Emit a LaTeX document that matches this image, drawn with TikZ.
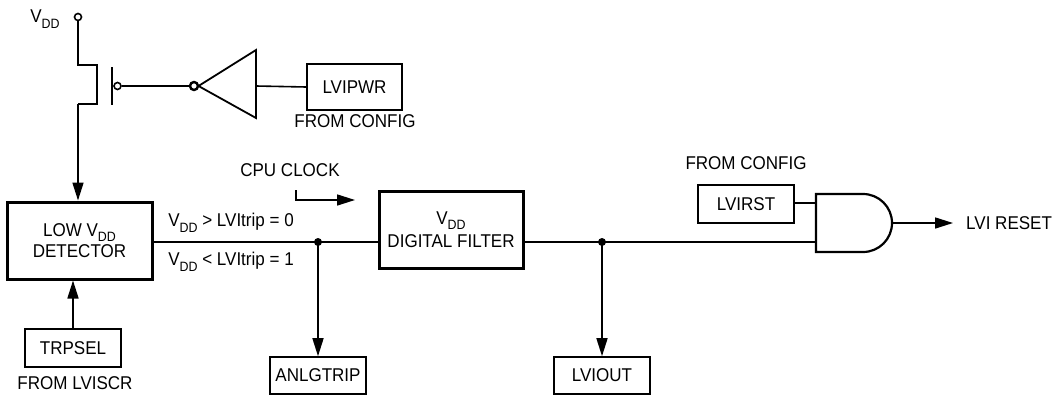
\documentclass[tikz,border=0pt]{standalone}
\usepackage{fontspec}
\setmainfont[FakeStretch=0.92]{Liberation Sans}
\usetikzlibrary{arrows.meta}
\newcommand\vdd{V\raisebox{-0.3em}{\fontsize{13.5}{13}\selectfont DD}}
\begin{document}
\begin{tikzpicture}[x=1pt,y=-1pt,
  every node/.style={font=\fontsize{18.5}{21}\selectfont, inner sep=0pt},
  thin line/.style={line width=1.6pt},
  thickbox/.style={draw, line width=3pt, align=center, minimum width=144pt, minimum height=77pt},
  regbox/.style={draw, line width=1.6pt, minimum width=96pt, minimum height=38pt},
  arr/.style={line width=1.6pt, -{Triangle[length=18pt,width=11pt]}},
  dot/.style={circle, fill, minimum size=8pt},
  lbl/.style={align=center}]
\useasboundingbox (0,0) rectangle (1056,396);

% supply and transistor
\node[circle, draw, thin line, fill=white, minimum size=7pt] (vddc) at (78,17) {};
\node (vddl) at (45,19) {\vdd};
\node[thickbox, minimum width=145pt] (det) at (79.5,240.5) {LOW \vdd\\[0pt]DETECTOR};
\draw[thin line] (vddc.south) -- (78,65) -- (97,65) -- (97,104) -- (78,104) coordinate (tsrc);
\draw[arr] (tsrc) -- (tsrc |- det.north);
\coordinate (gtop) at (112,67);
\coordinate (gbot) at (112,105);
\draw[thin line] (gtop) -- (gbot);
\node[circle, draw, thin line, minimum size=7pt] (gb) at (117.5,86) {};
\node[circle, draw, line width=2.4pt, minimum size=8pt] (ib) at (194,86) {};
\draw[thin line] (gb.east) -- (ib.west);
\coordinate (tapex) at (198.5,86);
\coordinate (tb1) at (256,50);
\coordinate (tb2) at (256,118);
\coordinate (tout) at (256,86);
\draw[line width=1.8pt, line join=miter] (tapex) -- (tb1) -- (tb2) -- cycle;
\node[regbox, minimum width=95pt, minimum height=46pt] (lvipwr) at (354.5,87) {LVIPWR};
\draw[thin line] (tout) -- (lvipwr.west);
\node (fc1) at (355,121) {FROM CONFIG};

% detector input
\node[regbox] (trpsel) at (73,348) {TRPSEL};
\node (flv) at (75,383) {FROM LVISCR};
\draw[arr] (trpsel.north) -- (trpsel.north |- det.south);

% filter
\node[thickbox] (filt) at (451,229.5) {\vdd\\[2pt]DIGITAL FILTER};
\coordinate (j1) at (318,242);
\coordinate (j2) at (602,242);
\draw[thin line] (det.east |- j1) -- (filt.west |- j1);
\node[dot] (d1) at (j1) {};
\node (gt) at (231,223) {\vdd\ > LVItrip = 0};
\node (lt) at (231,262) {\vdd\ < LVItrip = 1};
\node[regbox, minimum height=37pt] (anl) at (318,375.5) {ANLGTRIP};
\draw[arr] (d1.center) -- (anl.north);

\node (cpu) at (290,170) {CPU CLOCK};
\coordinate (ck0) at (296,190);
\coordinate (ck1) at (296,200);
\coordinate (ck2) at (355,200);
\draw[arr] (ck0) -- (ck1) -- (ck2);

% output side
\node[dot] (d2) at (j2) {};
\node[regbox, minimum height=37pt] (lviout) at (602,375.5) {LVIOUT};
\draw[arr] (d2.center) -- (lviout.north);

\node[regbox] (lvirst) at (746,204) {LVIRST};
\node (fc2) at (746,163) {FROM CONFIG};

\coordinate (ga) at (816,203);
\coordinate (gbin) at (816,242);
\coordinate (gout) at (892,223);
\coordinate (rst) at (953,223);
\draw[line width=2.2pt, line join=miter] (816,194) -- (863,194) arc[start angle=-90, end angle=90, radius=29] -- (816,252) -- cycle;
\draw[thin line] (filt.east |- j2) -- (gbin);
\draw[thin line] (lvirst.east |- ga) -- (ga);
\node[anchor=west] (lvireset) at (966,223) {LVI RESET};
\draw[arr] (gout) -- (rst);
\end{tikzpicture}
\end{document}
